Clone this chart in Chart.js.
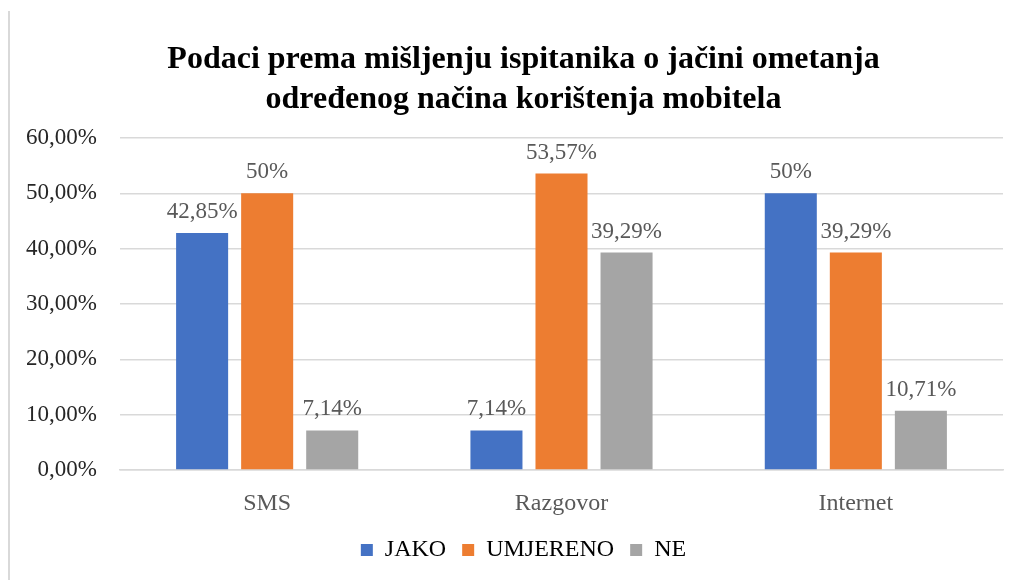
<!DOCTYPE html>
<html>
<head>
<meta charset="utf-8">
<script src="https://cdn.jsdelivr.net/npm/chart.js@4"></script>
<style>
  html, body { margin: 0; padding: 0; background: #fff; }
  #wrap { position: relative; width: 1019px; height: 580px; }
  #edge { position: absolute; left: 8px; top: 11px; bottom: 0; border-left: 2px solid #d9d9d9; }
  canvas { position: absolute; left: 0; top: 0; }
</style>
</head>
<body>
<div id="wrap">
  <div id="edge"></div>
  <canvas id="chart" width="1019" height="580"></canvas>
</div>
<script>
const categories = ['SMS', 'Razgovor', 'Internet'];
const jako = [42.85, 7.14, 50];
const umjereno = [50, 53.57, 39.29];
const ne = [7.14, 39.29, 10.71];
// labels exactly as printed on the bars
const jakoLabels = ['42,85%', '7,14%', '50%'];
const umjerenoLabels = ['50%', '53,57%', '39,29%'];
const neLabels = ['7,14%', '39,29%', '10,71%'];
const yTicks = [0, 10, 20, 30, 40, 50, 60];

const serif = "'Liberation Serif', 'Times New Roman', serif";

// Draw value labels above each bar
const barLabels = {
  id: 'barLabels',
  afterDatasetsDraw(chart) {
    const ctx = chart.ctx;
    ctx.save();
    ctx.font = '23px ' + serif;
    ctx.fillStyle = '#595959';
    ctx.textAlign = 'center';
    ctx.textBaseline = 'alphabetic';
    chart.data.datasets.forEach((ds, i) => {
      chart.getDatasetMeta(i).data.forEach((bar, j) => {
        ctx.fillText(ds.valueLabels[j], bar.x, bar.y - 15);
      });
    });
    ctx.restore();
  }
};

// Fixed legend height, so the item spacing does not push the plot up
const legendHeight = {
  id: 'legendHeight',
  beforeInit(chart) {
    const fit = chart.legend.fit;
    chart.legend.fit = function () {
      fit.bind(chart.legend)();
      this.height = 58;
    };
  }
};

new Chart(document.getElementById('chart'), {
  type: 'bar',
  data: {
    labels: categories,
    datasets: [
      { label: 'JAKO', data: jako, valueLabels: jakoLabels, backgroundColor: '#4472c4' },
      { label: 'UMJERENO', data: umjereno, valueLabels: umjerenoLabels, backgroundColor: '#ed7d31' },
      { label: 'NE', data: ne, valueLabels: neLabels, backgroundColor: '#a5a5a5' },
    ],
  },
  options: {
    responsive: false,
    animation: false,
    layout: { padding: { left: 44, right: 16, bottom: 0 } },
    datasets: { bar: { categoryPercentage: 0.663, barPercentage: 0.8 } },
    scales: {
      x: {
        afterFit(axis) { axis.height = 52; },
        grid: { display: false, drawTicks: false },
        border: { color: '#d9d9d9', width: 1.5 },
        ticks: { color: '#595959', font: { family: serif, size: 24 }, padding: 19 },
      },
      y: {
        min: 0,
        max: 60,
        afterBuildTicks(axis) { axis.ticks = yTicks.map(v => ({ value: v })); },
        afterFit(axis) {
          axis.width = 76;
          axis._computeLabelArea = () => undefined; // let labels run left of the axis box
        },
        grid: { color: '#d9d9d9', lineWidth: 1.5, drawTicks: false },
        border: { display: false },
        ticks: {
          color: '#262626',
          font: { family: serif, size: 23 },
          padding: 23,
          callback: v => v.toFixed(2).replace('.', ',') + '%',
        },
      },
    },
    plugins: {
      title: {
        display: true,
        text: ['Podaci prema mišljenju ispitanika o jačini ometanja', 'određenog načina korištenja mobitela'],
        color: '#000',
        font: { family: serif, size: 32, weight: 'bold', lineHeight: 1.25 },
        padding: { top: 40, bottom: 18 },
      },
      legend: {
        position: 'bottom',
        labels: {
          color: '#000',
          font: { family: serif, size: 24 },
          boxWidth: 12,
          boxHeight: 12,
          padding: 16,
        },
      },
      tooltip: { enabled: false },
    },
  },
  plugins: [barLabels, legendHeight],
});
</script>
</body>
</html>
